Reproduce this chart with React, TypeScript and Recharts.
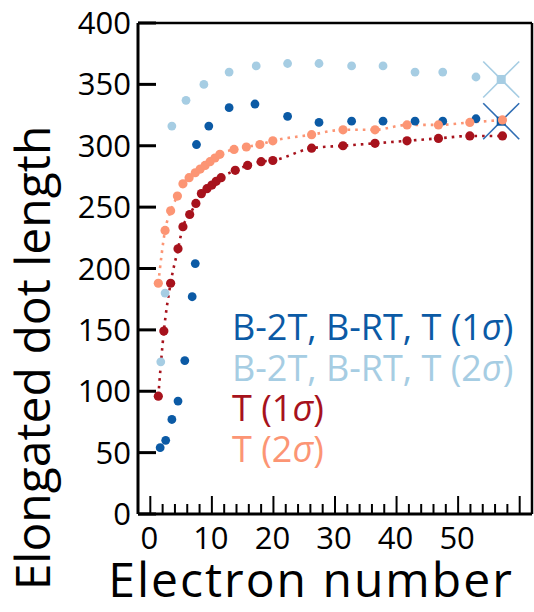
import { ComposedChart, Scatter, Line, XAxis, YAxis, ReferenceLine, Legend } from 'recharts'

const blue1X = [1.6, 2.5, 3.5, 4.5, 5.6, 6.8, 7.3, 7.5, 9.5, 12.8, 17.0, 22.3, 27.4, 32.7, 37.8, 43.0, 47.5, 52.9]
const blue1Y = [54, 60, 77, 92, 125, 177, 204, 301, 316, 331, 334, 324, 319, 320, 320, 320, 320, 322]

const blue2X = [1.7, 2.4, 3.5, 5.8, 8.7, 12.8, 17.2, 22.3, 27.4, 32.7, 37.8, 43.0, 47.5, 52.9]
const blue2Y = [124, 180, 316, 337, 350, 360, 365, 367, 367, 365, 365, 360, 360, 356]

// crossed-out points at the end
const limitX = [57.0]
const limit1Y = [320]
const limit2Y = [354]

const red1X = [1.3, 2.2, 3.3, 4.5, 5.3, 6.4, 7.4, 8.3, 9.2, 10.0, 10.7, 11.5, 13.8, 15.8, 18.0, 19.9, 26.2, 31.3, 36.5, 41.7, 46.8, 51.9, 57.2]
const red1Y = [96, 149, 188, 216, 234, 244, 253, 261, 265, 268, 271, 274, 280, 284, 287, 288, 298, 300, 302, 304, 306, 308, 308]

const red2X = [1.3, 2.4, 3.3, 4.4, 5.3, 6.3, 7.3, 8.1, 8.9, 9.7, 10.5, 11.3, 13.6, 15.6, 17.8, 19.9, 26.2, 31.3, 36.5, 41.7, 46.8, 51.9, 57.2]
const red2Y = [188, 231, 247, 259, 269, 274, 278, 281, 284, 287, 290, 293, 297, 299, 301, 304, 309, 313, 313, 317, 317, 319, 321]

const xTicks = [0, 2, 4, 6, 8, 10, 12, 14, 16, 18, 20, 22, 24, 26, 28, 30, 32, 34, 36, 38, 40, 42, 44, 46, 48, 50, 52, 54, 56, 58, 60]
const xLabels = [0, 10, 20, 30, 40, 50]
const yTicks = [0, 50, 100, 150, 200, 250, 300, 350, 400]

const DARK_BLUE = '#0b5aa5'
const LIGHT_BLUE = '#a6cde3'
const DARK_RED = '#a7121c'
const SALMON = '#fc9574'

const zip = (xs: number[], ys: number[]) => xs.map((x, i) => ({ x, y: ys[i] }))

const blue1 = zip(blue1X, blue1Y)
const blue2 = zip(blue2X, blue2Y)
const limit1 = zip(limitX, limit1Y)
const limit2 = zip(limitX, limit2Y)
const red1 = zip(red1X, red1Y)
const red2 = zip(red2X, red2Y)

const FONT = '"Open Sans", sans-serif'

const dotShape = (color: string) => (p: any) => (
  <circle cx={p.cx} cy={p.cy} r={4.4} fill={color} />
)

const crossShape = (color: string, lineColor: string) => (p: any) => (
  <g>
    <line x1={p.cx - 18} y1={p.cy - 18} x2={p.cx + 18} y2={p.cy + 18} stroke={lineColor} strokeWidth={1.6} />
    <line x1={p.cx - 18} y1={p.cy + 18} x2={p.cx + 18} y2={p.cy - 18} stroke={lineColor} strokeWidth={1.6} />
    <rect x={p.cx - 4.5} y={p.cy - 4.5} width={9} height={9} fill={color} />
  </g>
)

const XTick = ({ x, y, payload }: any) => {
  const v = payload.value
  const major = v % 10 === 0
  return (
    <g>
      <line x1={x} x2={x} y1={y} y2={y - (major ? 18 : 10)} stroke="#000" strokeWidth={2} />
      {xLabels.includes(v) && (
        <text x={x - 1} y={y + 35} textAnchor="middle" fontSize={31} fontFamily={FONT} fill="#000">{v}</text>
      )}
    </g>
  )
}

const YTick = ({ x, y, payload }: any) => (
  <g>
    <line x1={x} x2={x + 18} y1={y} y2={y} stroke="#000" strokeWidth={3} />
    <text x={x - 7} y={y + 11} textAnchor="end" fontSize={31} fontFamily={FONT} fill="#000">{payload.value}</text>
  </g>
)

const legendRows = [
  { color: DARK_BLUE, text: 'B-2T, B-RT, T (1', sigma: ')' },
  { color: LIGHT_BLUE, text: 'B-2T, B-RT, T (2', sigma: ')' },
  { color: DARK_RED, text: 'T (1', sigma: ')' },
  { color: SALMON, text: 'T (2', sigma: ')' },
]

const LegendBox = () => (
  <div style={{ fontFamily: FONT, fontSize: 36, lineHeight: '40.5px', whiteSpace: 'nowrap' }}>
    {legendRows.map(r => (
      <div key={r.text + r.color} style={{ color: r.color }}>
        {r.text}<span style={{ fontStyle: 'italic' }}>σ</span>{r.sigma}
      </div>
    ))}
  </div>
)

export default function App() {
  return (
    <div style={{ position: 'absolute', left: 0, top: 0, background: '#fff' }}>
      <ComposedChart width={534} height={612} margin={{ top: 23, right: 2, left: 0, bottom: 0 }}>
        <XAxis
          type="number"
          dataKey="x"
          domain={[-2, 62]}
          ticks={xTicks}
          interval={0}
          allowDataOverflow
          height={98}
          tickSize={0}
          tickMargin={0}
          tick={<XTick />}
          axisLine={{ stroke: '#000', strokeWidth: 3 }}
          label={{
            content: () => (
              <text x={311} y={597} textAnchor="middle" fontSize={48} letterSpacing={2} fontFamily={FONT} fill="#000">Electron number</text>
            ),
          }}
        />
        <YAxis
          type="number"
          dataKey="y"
          domain={[0, 400]}
          ticks={yTicks}
          interval={0}
          width={138}
          tickSize={0}
          tickMargin={0}
          tick={<YTick />}
          axisLine={{ stroke: '#000', strokeWidth: 3 }}
          label={{
            content: () => (
              <text x={50} y={358} transform="rotate(-90 50 358)" textAnchor="middle" fontSize={48} fontFamily={FONT} fill="#000">Elongated dot length</text>
            ),
          }}
        />
        <ReferenceLine y={400} stroke="#000" strokeWidth={2.5} />
        <ReferenceLine x={62} stroke="#000" strokeWidth={2.5} />
        <Scatter data={blue1} fill={DARK_BLUE} shape={dotShape(DARK_BLUE)} isAnimationActive={false} />
        <Scatter data={blue2} fill={LIGHT_BLUE} shape={dotShape(LIGHT_BLUE)} isAnimationActive={false} />
        <Scatter data={limit2} fill={LIGHT_BLUE} shape={crossShape(LIGHT_BLUE, LIGHT_BLUE)} isAnimationActive={false} />
        <Scatter data={limit1} fill={DARK_BLUE} shape={crossShape(DARK_BLUE, '#2f6db3')} isAnimationActive={false} />
        <Line
          data={red1}
          dataKey="y"
          type="monotone"
          stroke={DARK_RED}
          strokeWidth={2.6}
          strokeDasharray="2.6 5"
          dot={{ r: 4.6, fill: DARK_RED, stroke: 'none', strokeDasharray: '0' }}
          activeDot={false}
          isAnimationActive={false}
        />
        <Line
          data={red2}
          dataKey="y"
          type="monotone"
          stroke={SALMON}
          strokeWidth={2.6}
          strokeDasharray="2.6 5"
          dot={{ r: 4.6, fill: SALMON, stroke: 'none', strokeDasharray: '0' }}
          activeDot={false}
          isAnimationActive={false}
        />
        <Legend
          layout="vertical"
          align="center"
          verticalAlign="middle"
          content={<LegendBox />}
          wrapperStyle={{ position: 'absolute', left: 232, top: 307, width: 300 }}
        />
      </ComposedChart>
    </div>
  )
}
